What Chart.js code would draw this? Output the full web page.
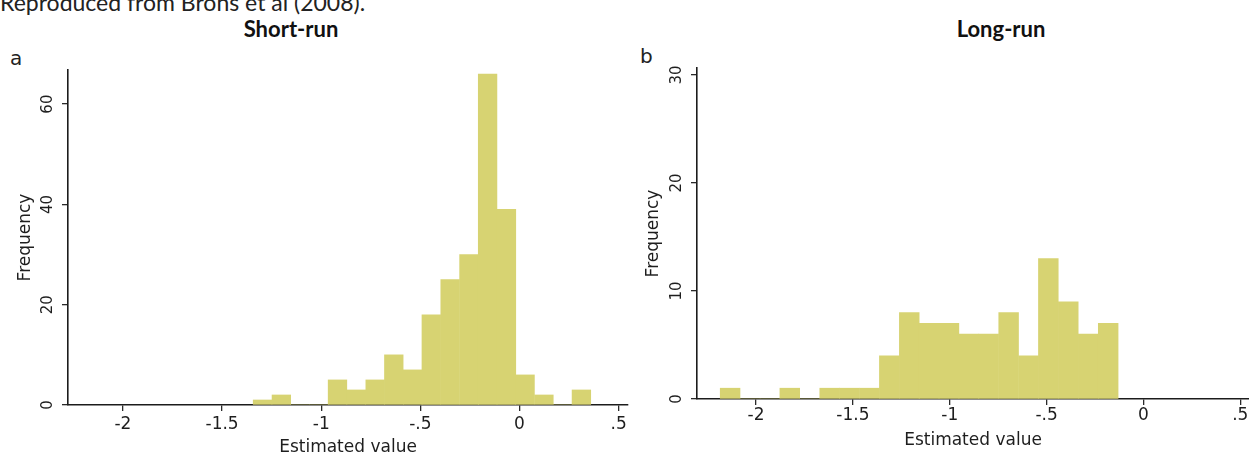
<!DOCTYPE html>
<html><head><meta charset="utf-8">
<script src="https://cdn.jsdelivr.net/npm/chart.js@4.4.0/dist/chart.umd.min.js"></script>
<style>
html,body{margin:0;padding:0;background:#fff;overflow:hidden}
#wrap{position:relative;width:1249px;height:458px;overflow:hidden;background:#fff}
.txt{position:absolute;white-space:nowrap;color:#111}
.ttl{font-family:Lato,"Open Sans",sans-serif;font-weight:bold;font-size:22px;line-height:22px;transform:translateX(-50%)}
.pl{font-family:"DejaVu Sans",sans-serif;font-size:20px;line-height:20px;color:#222}
canvas{position:absolute;top:0}
</style></head><body>
<div id="wrap">
<div class="txt" style="left:0;top:-9px;font-family:Lato,'Open Sans',sans-serif;font-size:23px;line-height:22px;color:#222">Reproduced from Brons et al (2008).</div>
<div class="txt ttl" style="left:291px;top:18px">Short-run</div>
<div class="txt ttl" style="left:1001px;top:18px">Long-run</div>
<div class="txt pl" style="left:10px;top:48px">a</div>
<div class="txt pl" style="left:640px;top:46px">b</div>
<canvas id="c1" width="640" height="458" style="left:0"></canvas>
<canvas id="c2" width="632" height="458" style="left:629px"></canvas>
</div>
<script>
// ---- data ----
const X_TICKS = [-2, -1.5, -1, -0.5, 0, 0.5];
const SHORT_Y_TICKS = [0, 20, 40, 60];
const LONG_Y_TICKS = [0, 10, 20, 30];
// bin centres (estimated value) and frequencies, short-run
const SHORT_BINS = [-1.296, -1.201, -1.107, -1.012, -0.918, -0.823, -0.728, -0.634, -0.539,
                    -0.445, -0.350, -0.255, -0.161, -0.066, 0.028, 0.123, 0.217, 0.312];
const SHORT_FREQ = [1, 2, 0, 0, 5, 3, 5, 10, 7, 18, 25, 30, 66, 39, 6, 2, 0, 3];
// bin centres and frequencies, long-run
const LONG_BINS = [-2.134, -2.031, -1.928, -1.826, -1.723, -1.620, -1.518, -1.415, -1.312, -1.209,
                   -1.107, -1.004, -0.901, -0.799, -0.696, -0.593, -0.491, -0.388, -0.285, -0.182];
const LONG_FREQ = [1, 0, 0, 1, 0, 1, 1, 1, 4, 8, 7, 7, 6, 6, 8, 4, 13, 9, 6, 7];

// ---- styling ----
const FAM = '"DejaVu Sans", sans-serif';
const BAR = 'rgb(215,211,114)';
const AXIS = '#1c1c1c';
const TXT = '#1e1e1e';

function fmt(v) {
  if (v === 0) return '0';
  const s = String(Math.abs(v)).replace(/^0\./, '.');
  return (v < 0 ? '-' : '') + s;
}

const yLabelPlugin = {
  id: 'yrot',
  afterDraw(chart) {
    const s = chart.scales.y, ctx = chart.ctx;
    ctx.save();
    ctx.fillStyle = TXT;
    ctx.font = '15px ' + FAM;
    ctx.textAlign = 'center';
    ctx.textBaseline = 'middle';
    s.ticks.forEach(t => {
      const y = s.getPixelForValue(t.value);
      ctx.save();
      ctx.translate(s.right - 20, y);
      ctx.rotate(-Math.PI / 2);
      ctx.fillText(String(t.value), 0, 0);
      ctx.restore();
    });
    ctx.restore();
  }
};

function makeChart(id, bins, freq, cfg) {
  return new Chart(document.getElementById(id), {
    type: 'bar',
    data: {
      datasets: [{
        data: bins.map((x, i) => ({ x: x, y: freq[i] })),
        backgroundColor: BAR,
        borderWidth: 0,
        barPercentage: 1,
        categoryPercentage: 1
      }]
    },
    options: {
      responsive: false,
      animation: false,
      layout: { padding: { left: 0, right: cfg.padRight, top: cfg.padTop, bottom: 0 } },
      plugins: { legend: { display: false }, tooltip: { enabled: false } },
      scales: {
        x: {
          type: 'linear', offset: false, bounds: 'data',
          min: cfg.xMin, max: cfg.xMax,
          afterBuildTicks: s => { s.ticks = X_TICKS.map(v => ({ value: v })); },
          afterFit: s => { s.height = cfg.xAxisH; },
          ticks: { callback: v => fmt(v), font: { family: FAM, size: 17 }, color: TXT,
                   padding: cfg.tickPad, maxRotation: 0, autoSkip: false },
          grid: { display: true, drawOnChartArea: false, drawTicks: true, tickLength: 6,
                  color: '#2a2a2a', lineWidth: 1.3, offset: false },
          border: { display: true, color: AXIS, width: 1.6 },
          title: { display: true, text: 'Estimated value', font: { family: FAM, size: 17 },
                   color: TXT, padding: { top: 0, bottom: cfg.titlePadB } }
        },
        y: {
          min: 0, max: cfg.yMax, bounds: 'data',
          afterBuildTicks: s => { s.ticks = cfg.yTicks.map(v => ({ value: v })); },
          afterFit: s => { s.width = 68; },
          ticks: { callback: () => '' },
          grid: { display: true, drawOnChartArea: false, drawTicks: true, tickLength: 6,
                  color: '#2a2a2a', lineWidth: 1.3 },
          border: { display: true, color: AXIS, width: 1.6 },
          title: { display: true, text: 'Frequency', font: { family: FAM, size: 17 },
                   color: TXT, padding: { top: cfg.yTitlePad, bottom: 0 } }
        }
      }
    },
    plugins: [yLabelPlugin]
  });
}

makeChart('c1', SHORT_BINS, SHORT_FREQ, {
  xMin: -2.277, xMax: 0.547, yMax: 66.8, yTicks: SHORT_Y_TICKS,
  padRight: 12, padTop: 70, xAxisH: 53, tickPad: 3, titlePadB: 0, yTitlePad: 15
});
makeChart('c2', LONG_BINS, LONG_FREQ, {
  xMin: -2.305, xMax: 0.545, yMax: 30.65, yTicks: LONG_Y_TICKS,
  padRight: 12, padTop: 68, xAxisH: 59, tickPad: 0, titlePadB: 7, yTitlePad: 14
});
</script>
</body></html>
